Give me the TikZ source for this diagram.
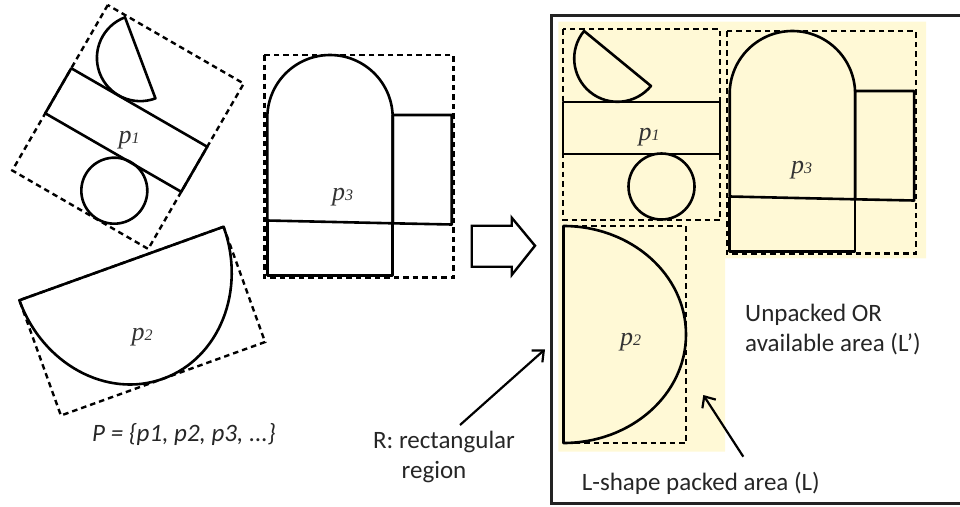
\documentclass[tikz,border=0pt]{standalone}
\usepackage{fontspec}
\setmainfont{Carlito}
\newfontfamily\timesf{Liberation Serif}
\usetikzlibrary{arrows.meta}
\definecolor{lyellow}{RGB}{255,249,214}
\definecolor{bordergray}{RGB}{35,35,35}
\tikzset{
  shp/.style={draw=black, line width=2.6pt, line join=round},
  bbox/.style={draw=black, line width=2.4pt, dash pattern=on 5.5pt off 4pt},
  plabel/.style={font=\timesf\itshape\fontsize{26}{26}\selectfont, text=black!80, inner sep=0pt},
  txt/.style={font=\fontsize{25}{30}\selectfont, text=black!85, inner sep=0pt},
  pointer/.style={draw=black, line width=2.2pt, -{Straight Barb[length=9pt,width=16pt,line width=2.2pt]}},
  pone/.pic={
    \draw[bbox] (-78.5,-95.5) rectangle (78.5,95.5);
    \draw[shp] (-78.5,-22.5) rectangle (78.5,29.5);
    \draw[shp] (20,62) circle[radius=33];
    \draw[shp] (-24,-66) ++(219.4:43.3) arc[start angle=219.4,end angle=39.4,radius=43.3] -- cycle;
  },
  pthree/.pic={
    \draw[bbox] (0,0) rectangle (189,222.3);
    \draw[shp] (3,165.5) -- (3,62.7) arc[start angle=180,end angle=360,radius=62.7] -- (128.4,168.3) -- cycle;
    \draw[shp] (128.4,168.3) -- (128.4,60) -- (187.4,60) -- (187.4,169.5) -- cycle;
    \draw[shp] (3,165.5) -- (3,220.7) -- (128.4,220.7) -- (128.4,168.3);
  },
  ptwo/.pic={
    \draw[bbox] (0,-108.5) rectangle (122.5,108.5);
    \draw[shp] (0,-108.5) arc[start angle=-90,end angle=90,x radius=122.5,y radius=108.5] -- cycle;
  }
}
\newcommand\pnum[1]{p{\fontsize{16}{16}\selectfont #1}}
\begin{document}
\begin{tikzpicture}[x=1pt,y=-1pt]
\useasboundingbox (0,0) rectangle (960,506);
\clip (0,0) rectangle (960,506);
% right panel
\fill[lyellow] (558.3,21.7) -- (926,21.7) -- (926,258.3) -- (725,258.3) -- (725,451.7) -- (558.3,451.7) -- cycle;
\draw[bordergray, line width=2.6pt] (551.7,15.7) rectangle (975,503.5);
\pic at (641.5,124.5) {pone};
\pic at (726.7,31) {pthree};
\pic at (563.5,334.5) {ptwo};
\node[plabel] (rp1) at (649,137) {\pnum{1}};
\node[plabel] (rp3) at (801.5,170) {\pnum{3}};
\node[plabel] (rp2) at (630.5,342.5) {\pnum{2}};
% left pieces
\pic[rotate=-30] at (128,127) {pone};
\pic at (264.3,55) {pthree};
\pic[rotate=-70.2] at (121.5,263.5) {ptwo};
\node[plabel] (lp1) at (129,140) {\pnum{1}};
\node[plabel] (lp3) at (342.5,197) {\pnum{3}};
\node[plabel] (lp2) at (142,337) {\pnum{2}};
% block arrow
\draw[draw=black, line width=2.4pt, line join=miter] (471.7,225.7) -- (511.7,225.7) -- (511.7,217.7) -- (535,245.7) -- (511.7,275) -- (511.7,266.7) -- (471.7,266.7) -- cycle;
% texts
\node[txt, font=\itshape\fontsize{25}{30}\selectfont, anchor=base] (pset) at (184,441) {P = \{p1, p2, p3, ...\}};
\node[txt, align=center] (rtext) at (444,457) {R: rectangular\\region\hspace*{20pt}};
\node[txt, align=left, anchor=north west] (utext) at (745,304) {Unpacked OR\\available area (L’)};
\node[txt, anchor=base west] (ltext) at (581.7,490) {L-shape packed area (L)};
% pointers
\coordinate (rtail) at (460,425);
\coordinate (rtip) at (545,349.3);
\coordinate (ltail) at (743.3,456.7);
\coordinate (ltip) at (703.3,395);
\draw[pointer] (rtail) -- (rtip);
\draw[pointer] (ltail) -- (ltip);
\end{tikzpicture}
\end{document}
